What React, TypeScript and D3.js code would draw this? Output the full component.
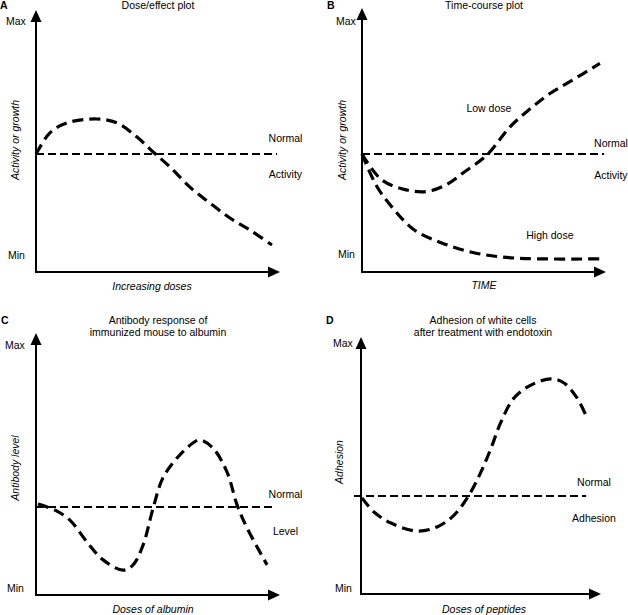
import React from 'react';
import * as d3 from 'd3';

type P = [number, number];

// Values on a 0 (Min) .. 100 (Max) scale, x as 0..100 of the axis length
const doseEffect: P[] = [
  [0, 45.0], [5.7, 53.1], [12.7, 56.9], [25.0, 58.4], [33.2, 56.9], [41.4, 51.5],
  [48.0, 45.8], [54.9, 40.1], [63.1, 32.4], [71.3, 26.3], [79.5, 20.6], [87.7, 16.0], [96.7, 10.3],
];
const lowDose: P[] = [
  [0, 44.7], [7.8, 35.1], [17.2, 31.3], [26.6, 30.5], [34.8, 33.2], [41.8, 37.8], [51.2, 44.3],
  [60.7, 55.0], [68.9, 61.8], [77.0, 67.6], [85.2, 72.1], [97.5, 79.0],
];
const highDose: P[] = [
  [0, 44.7], [6.1, 32.4], [13.1, 23.7], [21.3, 16.0], [32.4, 11.1], [45.9, 7.3], [62.3, 5.3], [99.2, 5.0],
];
const antibody: P[] = [
  [0.8, 34.7], [7.8, 32.4], [13.9, 28.6], [20.9, 20.2], [27.5, 13.4], [35.7, 9.5], [39.8, 11.5],
  [43.9, 19.1], [48, 33.2], [52, 44.7], [57.8, 52.3], [64.3, 58.0], [67.2, 59.2], [72.5, 56.1],
  [78.3, 46.9], [82.4, 34.4], [86.5, 25.6], [94.7, 11.5],
];
const adhesion: P[] = [
  [0.4, 37.4], [5.4, 31.9], [12.5, 27.6], [23.3, 24.5], [31.7, 26.1], [38.8, 30.7], [45, 38.5],
  [50, 47.5], [54.2, 56.8], [58.3, 66.9], [63.8, 76.3], [70.8, 81.3], [79.2, 83.7], [84.6, 82.1],
  [90, 76.3], [94.2, 68.5],
];

const normalLevels = [45.0, 44.7, 33.6, 38.1];
const normalSpans: P[] = [[0, 98.8], [0, 99.2], [0, 97.1], [-2.9, 93.8]];
const panelLetters = ['A', 'B', 'C', 'D'];
const titles = [
  ['Dose/effect plot'],
  ['Time-course plot'],
  ['Antibody response of', 'immunized mouse to albumin'],
  ['Adhesion of white cells', 'after treatment with endotoxin'],
];
const yLabels = ['Activity or growth', 'Activity or growth', 'Antibody level', 'Adhesion'];
const xLabels = ['Increasing doses', 'TIME', 'Doses of albumin', 'Doses of peptides'];
const refLabels = [['Normal', 'Activity'], ['Normal', 'Activity'], ['Normal', 'Level'], ['Normal', 'Adhesion']];
const panelSeries: P[][][] = [[doseEffect], [lowDose, highDose], [antibody], [adhesion]];
const seriesNotes = [[], [{ t: 'Low dose', x: 52, y: 62 }, { t: 'High dose', x: 77, y: 14 }], [], []];

const layouts = [
  { x0: 36, x1: 280, yb: 272, yt: 10, letterX: 0, letterY: 9, titleX: 158, titleY: 9, maxX: 6, maxY: 25, minY: 259, refX: 285.5, ref1: 142, ref2: 178, yLabX: 15, yLabY: 140, xLabX: 152, xLabY: 290 },
  { x0: 362, x1: 606, yb: 272, yt: 8, letterX: 327, letterY: 9, titleX: 484, titleY: 9, maxX: 336, maxY: 25, minY: 258, refX: 611, ref1: 147, ref2: 179, yLabX: 342, yLabY: 140, xLabX: 484, xLabY: 289 },
  { x0: 36, x1: 280, yb: 595, yt: 333, letterX: 1, letterY: 324, titleX: 158, titleY: 324, maxX: 5, maxY: 349, minY: 592, refX: 285.5, ref1: 498, ref2: 535, yLabX: 15, yLabY: 468, xLabX: 153, xLabY: 613 },
  { x0: 361, x1: 601, yb: 594, yt: 337, letterX: 326, letterY: 324, titleX: 483, titleY: 324, maxX: 333, maxY: 347, minY: 592, refX: 594, ref1: 486, ref2: 522, yLabX: 339, yLabY: 462, xLabX: 484, xLabY: 613 },
];

const FONT = '"Liberation Sans", Arial, Helvetica, sans-serif';
const FS = 10.5;

function Panel({ i }: { i: number }) {
  const L = layouts[i];
  const x = d3.scaleLinear().domain([0, 100]).range([L.x0, L.x1]);
  const y = d3.scaleLinear().domain([0, 100]).range([L.yb, L.yt]);
  const line = d3.line<P>().x(d => x(d[0])).y(d => y(d[1])).curve(d3.curveCatmullRom.alpha(0.5));
  const ny = y(normalLevels[i]);
  const ah = 12, aw = 5.5;
  return (
    <g fontFamily={FONT} fontSize={FS} fill="#000">
      <text x={L.letterX} y={L.letterY} fontWeight="bold">{panelLetters[i]}</text>
      {titles[i].map((t, k) => (
        <text key={k} x={L.titleX} y={L.titleY + k * 12} textAnchor="middle">{t}</text>
      ))}
      <text x={L.maxX} y={L.maxY}>Max</text>
      <text x={L.maxX + 2} y={L.minY}>Min</text>
      {/* axes */}
      <line x1={L.x0} y1={L.yb} x2={L.x0} y2={L.yt + ah - 1} stroke="#000" strokeWidth={2} />
      <line x1={L.x0 - 1} y1={L.yb} x2={L.x1 - ah + 1} y2={L.yb} stroke="#000" strokeWidth={2} />
      <path d={`M${L.x0},${L.yt} L${L.x0 - aw},${L.yt + ah} L${L.x0 + aw},${L.yt + ah} Z`} fill="#000" />
      <path d={`M${L.x1},${L.yb} L${L.x1 - ah},${L.yb - aw} L${L.x1 - ah},${L.yb + aw} Z`} fill="#000" />
      {/* normal line */}
      <line x1={x(normalSpans[i][0])} x2={x(normalSpans[i][1])} y1={ny} y2={ny} stroke="#000" strokeWidth={2} strokeDasharray="8 4" />
      {panelSeries[i].map((s, k) => (
        <path key={k} d={line(s) || ''} fill="none" stroke="#000" strokeWidth={3.2} strokeDasharray="11 6" />
      ))}
      <text x={L.refX} y={L.ref1} textAnchor="middle">{refLabels[i][0]}</text>
      <text x={L.refX} y={L.ref2} textAnchor="middle">{refLabels[i][1]}</text>
      {seriesNotes[i].map((n, k) => (
        <text key={k} x={x(n.x)} y={y(n.y)} textAnchor="middle" dy="0.35em">{n.t}</text>
      ))}
      <text transform={`translate(${L.yLabX},${L.yLabY}) rotate(-90)`} textAnchor="middle" dy="0.35em" fontStyle="italic">{yLabels[i]}</text>
      <text x={L.xLabX} y={L.xLabY} textAnchor="middle" fontStyle="italic">{xLabels[i]}</text>
    </g>
  );
}

export default function App() {
  return (
    <svg width={628} height={615} style={{ position: 'absolute', left: 0, top: 0, background: '#fff' }}>
      <rect width={628} height={615} fill="#fff" />
      {[0, 1, 2, 3].map(i => <Panel key={i} i={i} />)}
    </svg>
  );
}
